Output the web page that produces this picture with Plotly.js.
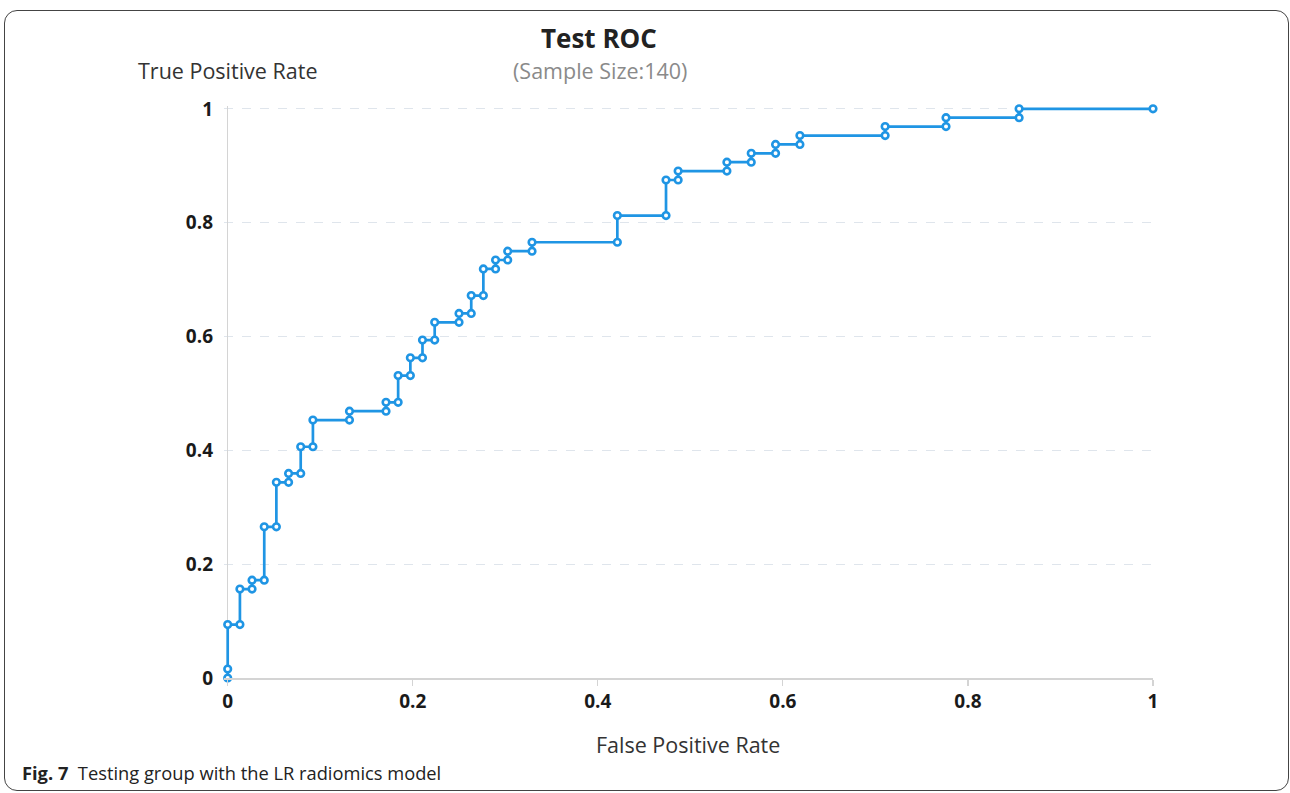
<!DOCTYPE html>
<html>
<head>
<meta charset="utf-8">
<script src="https://cdn.plot.ly/plotly-3.0.1.min.js"></script>
<style>
  html, body { margin: 0; padding: 0; background: #fff; }
  #wrap { position: relative; width: 1290px; height: 793px; }
  #chart { position: absolute; left: 0; top: 0; width: 1290px; height: 793px; }
  #frame { position: absolute; left: 4px; top: 10px; width: 1283px; height: 779px;
           border: 1.3px solid #444; border-radius: 13px; pointer-events: none; }
</style>
</head>
<body>
<div id="wrap">
  <div id="chart"></div>
  <div id="frame"></div>
</div>
<script>
// ROC curve points (False Positive Rate, True Positive Rate)
const fpr = [0, 0, 0, 0.0132, 0.0132, 0.0263, 0.0263, 0.0395, 0.0395, 0.0526, 0.0526, 0.0658, 0.0658,
  0.0789, 0.0789, 0.0921, 0.0921, 0.1316, 0.1316, 0.1711, 0.1711, 0.1842, 0.1842, 0.1974, 0.1974,
  0.2105, 0.2105, 0.2237, 0.2237, 0.25, 0.25, 0.2632, 0.2632, 0.2763, 0.2763, 0.2895, 0.2895,
  0.3026, 0.3026, 0.3289, 0.3289, 0.4211, 0.4211, 0.4737, 0.4737, 0.4868, 0.4868, 0.5395, 0.5395,
  0.5658, 0.5658, 0.5921, 0.5921, 0.6184, 0.6184, 0.7105, 0.7105, 0.7763, 0.7763, 0.8553, 0.8553, 1];
const tpr = [0, 0.0156, 0.0938, 0.0938, 0.1563, 0.1563, 0.1719, 0.1719, 0.2656, 0.2656, 0.3438, 0.3438, 0.3594,
  0.3594, 0.4063, 0.4063, 0.4531, 0.4531, 0.4688, 0.4688, 0.4844, 0.4844, 0.5313, 0.5313, 0.5625,
  0.5625, 0.5938, 0.5938, 0.625, 0.625, 0.6406, 0.6406, 0.6719, 0.6719, 0.7188, 0.7188, 0.7344,
  0.7344, 0.75, 0.75, 0.7656, 0.7656, 0.8125, 0.8125, 0.875, 0.875, 0.8906, 0.8906, 0.9063,
  0.9063, 0.9219, 0.9219, 0.9375, 0.9375, 0.9531, 0.9531, 0.9688, 0.9688, 0.9844, 0.9844, 1, 1];
const tickVals = [0, 0.2, 0.4, 0.6, 0.8, 1];
const tickText = ['0', '0.2', '0.4', '0.6', '0.8', '1'];
const chartTitle = 'Test ROC';
const subTitle = '(Sample Size:140)';
const yLabel = 'True Positive Rate';
const xLabel = 'False Positive Rate';
const caption = '<b>Fig. 7</b>  Testing group with the LR radiomics model';

const FONT = 'Open Sans, Noto Sans, sans-serif';
// plot-area pixel box (slightly padded left/top so the curve on x=0 and y=1 is not clipped)
const L = 224.0, R = 1152.7, T = 106.15, B = 678.5;
const px = x => (x - L) / (R - L);
const py = y => (B - y) / (B - T);

const trace = {
  x: fpr, y: tpr, type: 'scatter', mode: 'lines+markers',
  line: { color: '#1f95e4', width: 2.7 },
  marker: { symbol: 'circle', size: 6.6, color: '#ffffff', line: { color: '#1f95e4', width: 2.6 } },
  cliponaxis: false, hoverinfo: 'x+y', showlegend: false
};

const layout = {
  width: 1290, height: 793,
  margin: { l: L, r: 1290 - R, t: T, b: 793 - B, pad: 0 },
  paper_bgcolor: '#ffffff', plot_bgcolor: '#ffffff',
  font: { family: FONT, color: '#222' },
  xaxis: {
    range: [-0.004, 1], tickvals: tickVals, ticktext: tickText,
    showgrid: false,
    zeroline: true, zerolinecolor: '#d4d4d4', zerolinewidth: 1.5,
    showline: true, linecolor: '#d4d4d4', linewidth: 1.5,
    ticks: 'outside', ticklen: 6, tickcolor: '#d4d4d4', tickwidth: 1.2,
    tickfont: { family: FONT, size: 19, color: '#1a1a1a', weight: 'bold' },
    fixedrange: true
  },
  yaxis: {
    range: [0, 1.005], tickvals: tickVals, ticktext: tickText,
    showgrid: true, gridcolor: '#dfe5ec', griddash: 'dash', gridwidth: 1.2,
    zeroline: false, showline: false,
    ticks: '', ticklabelstandoff: 10,
    tickfont: { family: FONT, size: 19, color: '#1a1a1a', weight: 'bold' },
    fixedrange: true
  },
  annotations: [
    { text: '<b>' + chartTitle + '</b>', xref: 'paper', yref: 'paper', x: px(599), y: py(38),
      xanchor: 'center', yanchor: 'middle', showarrow: false, font: { family: FONT, size: 26, color: '#222' } },
    { text: subTitle, xref: 'paper', yref: 'paper', x: px(600), y: py(71),
      xanchor: 'center', yanchor: 'middle', showarrow: false, font: { family: FONT, size: 21.5, color: '#8a8a8a' } },
    { text: yLabel, xref: 'paper', yref: 'paper', x: px(227), y: py(71),
      xanchor: 'center', yanchor: 'middle', showarrow: false, font: { family: FONT, size: 21.5, color: '#333' } },
    { text: xLabel, xref: 'paper', yref: 'paper', x: px(688), y: py(745),
      xanchor: 'center', yanchor: 'middle', showarrow: false, font: { family: FONT, size: 21.5, color: '#333' } },
    { text: caption, xref: 'paper', yref: 'paper', x: px(20), y: py(773),
      xanchor: 'left', yanchor: 'middle', showarrow: false, font: { family: FONT, size: 18.3, color: '#222' } }
  ]
};

Plotly.newPlot('chart', [trace], layout, { displayModeBar: false, staticPlot: true });
</script>
</body>
</html>
